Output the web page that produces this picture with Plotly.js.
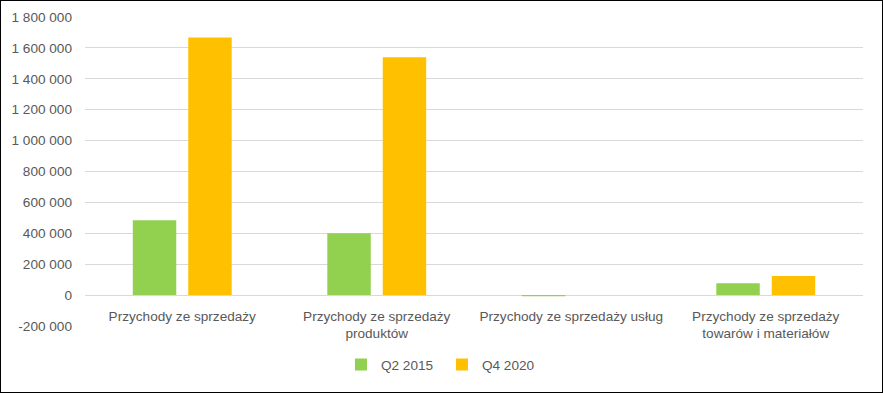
<!DOCTYPE html>
<html>
<head>
<meta charset="utf-8">
<script src="https://cdn.plot.ly/plotly-3.0.1.min.js"></script>
<style>
html,body{margin:0;padding:0;background:#fff;}
#chart{width:883px;height:393px;box-sizing:border-box;border:1px solid #000;}
</style>
</head>
<body>
<div id="chart"></div>
<script>
const categories = [
  "Przychody ze sprzedaży",
  "Przychody ze sprzedaży<br>produktów",
  "Przychody ze sprzedaży usług",
  "Przychody ze sprzedaży<br>towarów i materiałów"
];
const seriesNames = ["Q2 2015", "Q4 2020"];
const q2_2015 = [485000, 401000, -8000, 77000];
const q4_2020 = [1667000, 1540000, 0, 123000];
const yTickVals = [-200000, 0, 200000, 400000, 600000, 800000, 1000000, 1200000, 1400000, 1600000, 1800000];
const yTickText = ["-200 000", "0", "200 000", "400 000", "600 000", "800 000", "1 000 000", "1 200 000", "1 400 000", "1 600 000", "1 800 000"];

const font = {family: "Liberation Sans, Arial, sans-serif", size: 13.6, color: "#595959"};

const data = [
  {type: "bar", name: seriesNames[0], x: categories, y: q2_2015, marker: {color: "#92D050"}},
  {type: "bar", name: seriesNames[1], x: categories, y: q4_2020, marker: {color: "#FFC000"}}
];

const layout = {
  width: 881, height: 391,
  margin: {l: 84, r: 19, t: 16, b: 63},
  paper_bgcolor: "#fff", plot_bgcolor: "#fff",
  font: font,
  barmode: "group",
  bargap: 0.43,
  bargroupgap: 0.216,
  showlegend: true,
  legend: {orientation: "h", x: 0.329, xanchor: "left", y: -0.075, yanchor: "top", font: font,
           itemwidth: 30, entrywidth: 56, entrywidthmode: "pixels", traceorder: "normal"},
  xaxis: {
    type: "category",
    anchor: "free", position: 0.1,
    showgrid: false, showline: false, zeroline: false, ticks: "",
    tickfont: font, ticklabelstandoff: 11
  },
  yaxis: {
    range: [-200000, 1800000],
    tickvals: yTickVals, ticktext: yTickText,
    showgrid: true, gridcolor: "#d9d9d9", gridwidth: 1,
    zeroline: true, zerolinecolor: "#d9d9d9", zerolinewidth: 1,
    showline: false, ticks: "", tickfont: font, ticklabelstandoff: 12
  }
};

Plotly.newPlot("chart", data, layout, {displayModeBar: false, staticPlot: true});
</script>
</body>
</html>
